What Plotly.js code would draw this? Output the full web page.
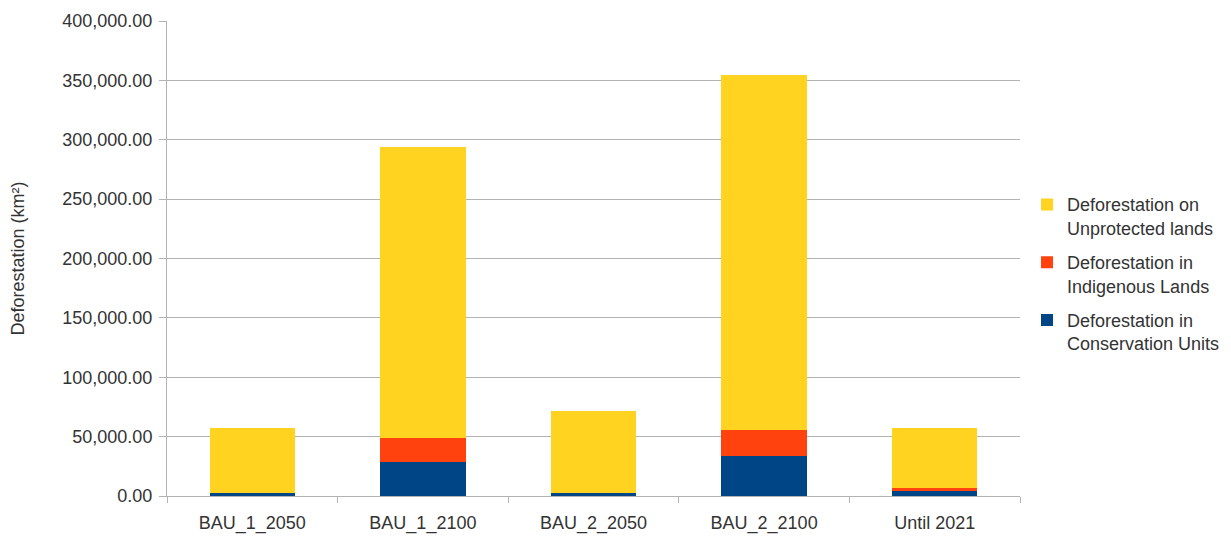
<!DOCTYPE html>
<html>
<head>
<meta charset="utf-8">
<script src="https://cdn.plot.ly/plotly-3.0.1.min.js"></script>
<style>html,body{margin:0;padding:0;background:#fff;}#chart{width:1231px;height:536px;}</style>
</head>
<body>
<div id="chart"></div>
<script>
const categories = ["BAU_1_2050", "BAU_1_2100", "BAU_2_2050", "BAU_2_2100", "Until 2021"];
const conservationUnits = [2500, 28600, 2500, 33700, 4200];
const indigenousLands = [300, 20200, 300, 21900, 2500];
const unprotectedLands = [54700, 245100, 68800, 298900, 50600];
const seriesNames = [
  "Deforestation in<br>Conservation Units",
  "Deforestation in<br>Indigenous Lands",
  "Deforestation on<br>Unprotected lands"
];
const colors = ["#004586", "#FF420E", "#FFD320"];
const yTicks = [0, 50000, 100000, 150000, 200000, 250000, 300000, 350000, 400000];

const seriesValues = [conservationUnits, indigenousLands, unprotectedLands];
const traces = seriesValues.map((vals, i) => ({
  type: "bar",
  x: categories,
  y: vals,
  name: seriesNames[i],
  legendgroup: "g" + i,
  legendrank: 1000 - i,
  marker: {color: colors[i], line: {width: 0}},
  hoverinfo: "x+y+name"
}));

const font = {family: "Liberation Sans, Arial, sans-serif", size: 18, color: "#333333"};

const layout = {
  width: 1231,
  height: 536,
  margin: {l: 167, r: 211, t: 21, b: 40, pad: 0},
  paper_bgcolor: "#ffffff",
  plot_bgcolor: "#ffffff",
  font: font,
  barmode: "stack",
  bargap: 0.5,
  showlegend: true,
  legend: {
    xref: "container",
    x: 0.8343, xanchor: "left",
    y: 0.467, yanchor: "middle",
    traceorder: "grouped",
    valign: "top",
    tracegroupgap: 8,
    font: font,
    bgcolor: "rgba(0,0,0,0)"
  },
  xaxis: {
    type: "category",
    showgrid: false,
    showline: true,
    linecolor: "#b3b3b3",
    linewidth: 1,
    ticks: "outside",
    tickson: "boundaries",
    ticklen: 6,
    tickcolor: "#b3b3b3",
    tickfont: font,
    ticklabelstandoff: 10,
    zeroline: false
  },
  yaxis: {
    range: [0, 400000],
    tickvals: yTicks,
    tickformat: ",.2f",
    showgrid: true,
    gridcolor: "#b3b3b3",
    gridwidth: 1,
    showline: true,
    linecolor: "#b3b3b3",
    ticks: "outside",
    ticklen: 7,
    tickcolor: "#b3b3b3",
    tickfont: font,
    ticklabelstandoff: 3,
    zeroline: false,
    title: {text: "Deforestation (km²)", font: font, standoff: 33}
  }
};

Plotly.newPlot("chart", traces, layout, {displayModeBar: false, staticPlot: true});
</script>
</body>
</html>
